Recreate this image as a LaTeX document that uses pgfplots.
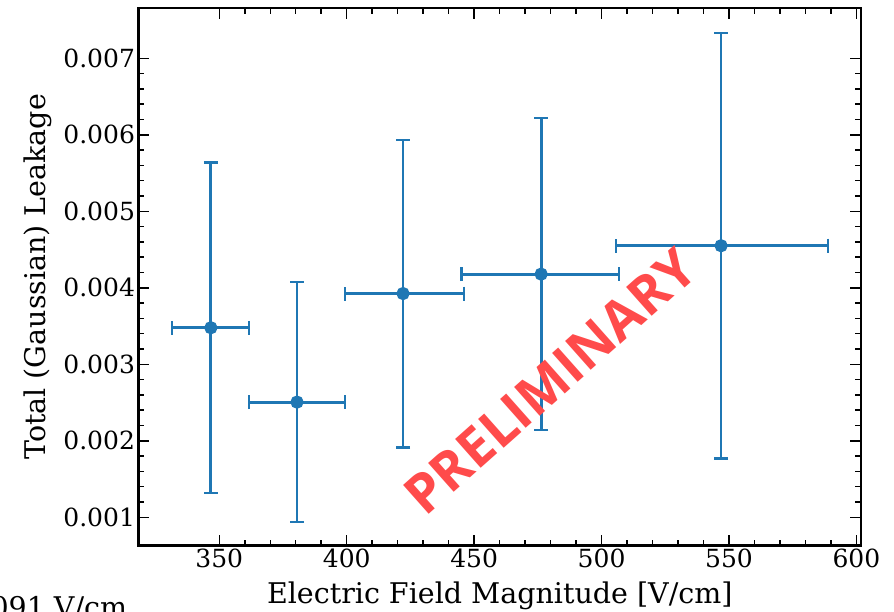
\documentclass[border=0pt]{standalone}
\usepackage{pgfplots}
\pgfplotsset{compat=1.18}
\usepackage{pgfplotstable}
\usepackage{fontspec}
\setmainfont{DejaVu Serif}
\newfontfamily\prelimfont{Open Sans}
\definecolor{c0}{HTML}{1F77B4}
\definecolor{prelim}{HTML}{FF4B4B}
\pgfplotstableread{
x      y        exm   exp   ey
346.7  0.003478 15.3  15.0  0.00216
380.5  0.002506 18.8  18.8  0.00157
422.1  0.003925 22.8  23.9  0.00201
476.3  0.004179 31.2  30.6  0.00204
546.9  0.004550 41.3  42.0  0.00278
}\data
\begin{document}
\begin{tikzpicture}
\useasboundingbox (0,0) rectangle (894pt,612pt);
\begin{axis}[
  at={(138.5pt,66.3pt)}, anchor=south west,
  scale only axis, width=722.5pt, height=537.7pt,
  xmin=318.3, xmax=601.8, ymin=0.000629, ymax=0.007658,
  xtick={350,400,450,500,550,600},
  ytick={0.001,0.002,0.003,0.004,0.005,0.006,0.007},
  minor x tick num=4, minor y tick num=4,
  tick align=inside, xtick pos=both, ytick pos=both,
  xticklabel pos=lower, yticklabel pos=left,
  axis line style={line width=2.5pt},
  major tick length=11pt, minor tick length=6pt,
  every tick/.style={black, line width=1.5pt},
  scaled y ticks=false,
  yticklabel style={/pgf/number format/.cd, fixed, precision=3, fixed zerofill},
  /pgf/number format/assume math mode=true,
  tick label style={font=\fontsize{25}{30}\selectfont},
  label style={font=\fontsize{28.5}{34}\selectfont},
  xlabel={Electric Field Magnitude [V/cm]},
  ylabel={Total (Gaussian) Leakage},
  xlabel style={at={(axis description cs:0.5,-0.1084)}, anchor=base},
  ylabel style={at={(axis description cs:-0.1398,0.5)}, anchor=center},
  clip=false,
]
\addplot[color=c0, only marks, mark=*, mark size=5.2pt, line width=2.8pt,
  error bars/.cd, x dir=both, x explicit, y dir=both, y explicit,
  error mark=|,
  error bar style={line width=2.8pt, c0},
  error mark options={line width=2.4pt, mark size=7pt, c0}]
  table[x=x, y=y, x error plus=exp, x error minus=exm, y error=ey] {\data};
\node[rotate=41.6, text=prelim, font=\prelimfont\bfseries\fontsize{54}{62}\selectfont] at (axis cs:479.8,0.00278) {PRELIMINARY};
\end{axis}
\node[anchor=base west, font=\fontsize{28.5}{34}\selectfont] at (-13pt,-6pt) {091 V/cm};
\end{tikzpicture}
\end{document}
